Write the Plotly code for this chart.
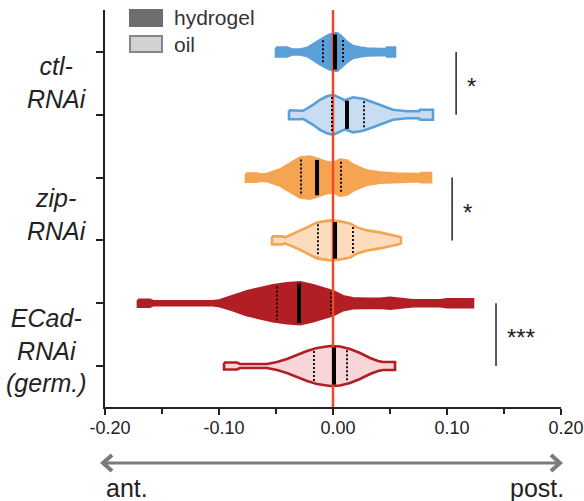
import numpy as np
import plotly.graph_objects as go

# ---------------- data ----------------
group_labels = ["ctl-<br>RNAi", "zip-<br>RNAi", "ECad-<br>RNAi<br>(germ.)"]
conditions = ["hydrogel", "oil"]

# violin outlines: value positions and relative density (half-width)
ctl_hyd_x = [-0.0500, -0.0404, -0.0360, -0.0289, -0.0228, -0.0175, -0.0114, -0.0053, 0.0000,
             0.0035, 0.0070, 0.0123, 0.0175, 0.0237, 0.0298, 0.0412, 0.0465, 0.0474, 0.0544]
ctl_hyd_d = [4.5, 4.5, 2.5, 2.5, 4, 8, 12, 16, 18.5, 19, 16, 10, 6, 4.5, 3.5, 3, 3, 4.5, 4.5]

ctl_oil_x = [-0.0386, -0.0289, -0.0263, -0.0175, -0.0114, -0.0053, 0.0000, 0.0061, 0.0105,
             0.0175, 0.0263, 0.0351, 0.0439, 0.0526, 0.0649, 0.0754, 0.0763, 0.0877]
ctl_oil_d = [4.5, 4.5, 4, 10, 15, 18.5, 20, 17, 14.5, 17.5, 16, 12.5, 9, 5, 3.5, 3.5, 5, 5]

zip_hyd_x = [-0.0763, -0.0667, -0.0640, -0.0579, -0.0465, -0.0377, -0.0289, -0.0202, -0.0114,
             -0.0053, 0.0000, 0.0061, 0.0123, 0.0175, 0.0298, 0.0412, 0.0544, 0.0763, 0.0772, 0.0860]
zip_hyd_d = [4, 4, 3, 3.5, 8, 14, 20, 21, 18, 15.5, 14.5, 18, 17, 13, 7, 5, 4, 3.5, 4.5, 4.5]

zip_oil_x = [-0.0535, -0.0447, -0.0421, -0.0316, -0.0228, -0.0140, -0.0026, 0.0061, 0.0149,
             0.0211, 0.0298, 0.0412, 0.0500, 0.0570, 0.0596]
zip_oil_d = [4, 4, 3, 8, 13, 18, 20, 19, 17, 13, 10, 8, 6, 4, 3]

ecad_hyd_x = [-0.1711, -0.1605, -0.1579, -0.1053, -0.0991, -0.0877, -0.0754, -0.0640, -0.0526,
              -0.0404, -0.0289, -0.0175, -0.0088, 0.0000, 0.0088, 0.0175, 0.0298, 0.0412,
              0.0500, 0.0588, 0.0702, 0.0939, 0.1000, 0.1228]
ecad_hyd_d = [3.5, 3.5, 2, 2, 3, 7, 12, 15, 18, 20, 21, 18, 15, 12, 7, 5, 4.5, 4.5, 5.5, 4.5, 3, 3, 4, 4]

ecad_oil_x = [-0.0956, -0.0842, -0.0816, -0.0579, -0.0491, -0.0404, -0.0316, -0.0228, -0.0140,
              -0.0026, 0.0061, 0.0149, 0.0237, 0.0325, 0.0395, 0.0439, 0.0544]
ecad_oil_d = [3.5, 3.5, 2, 2, 4, 7, 11, 15, 18, 20, 19.5, 17, 13, 8, 5, 4, 4]

medians = [0.0018, 0.0123, -0.0140, 0.0018, -0.0298, 0.0009]
q1s = [-0.0088, -0.0009, -0.0281, -0.0132, -0.0491, -0.0167]
q3s = [0.0088, 0.0272, 0.0070, 0.0175, -0.0018, 0.0123]

sig_labels = ["*", "*", "***"]
sig_x = [0.108, 0.1045, 0.143]

x_tickvals = [-0.2, -0.1, 0.0, 0.1, 0.2]
x_ticktext = ["-0.20", "-0.10", "0.00", "0.10", "0.20"]
x_minorvals = [-0.15, -0.05, 0.05, 0.15]

# ---------------- styling ----------------
FONT = "Liberation Sans, Arial, sans-serif"
W, H = 584, 501
ML, MR, MT, MB = 105, 23, 10, 94
PW, PH = W - ML - MR, H - MT - MB
Y_RANGE = [5.653, -0.669]
PX_PER_CAT = PH / (Y_RANGE[0] - Y_RANGE[1])
D_SCALE = 1.0 / PX_PER_CAT

dark = ["#5a9fd8", "#5a9fd8", "#f5a452", "#f5a452", "#b11f24", "#b11f24"]
fills = ["#5a9fd8", "#c8ddf1", "#f5a452", "#fcdcbd", "#b11f24", "#f8d6d7"]

profiles = [(ctl_hyd_x, ctl_hyd_d), (ctl_oil_x, ctl_oil_d),
            (zip_hyd_x, zip_hyd_d), (zip_oil_x, zip_oil_d),
            (ecad_hyd_x, ecad_hyd_d), (ecad_oil_x, ecad_oil_d)]


def px_x(p):
    return (p - ML) / PW


def px_y(p):
    return (MT + PH - p) / PH


fig = go.Figure()

# violins
for i, (xs, ds) in enumerate(profiles):
    xs = np.array(xs)
    hw = np.array(ds) * D_SCALE
    xx = np.concatenate([xs, xs[::-1], xs[:1]])
    yy = np.concatenate([i - hw, (i + hw)[::-1], [i - hw[0]]])
    fig.add_trace(go.Scatter(x=xx, y=yy, mode="lines", fill="toself",
                             fillcolor=fills[i], line=dict(color=dark[i], width=2.6),
                             hoverinfo="skip", showlegend=False))

# red zero line
fig.add_trace(go.Scatter(x=[0, 0], y=Y_RANGE, mode="lines",
                         line=dict(color="#f2472a", width=2.5),
                         hoverinfo="skip", showlegend=False))

# medians and quartiles
for i, (xs, ds) in enumerate(profiles):
    def half(v, shrink):
        return max(np.interp(v, xs, ds) - shrink, 1) * D_SCALE
    hm = half(medians[i], 1.2)
    fig.add_trace(go.Scatter(x=[medians[i], medians[i]], y=[i - hm, i + hm], mode="lines",
                             line=dict(color="black", width=4), hoverinfo="skip",
                             showlegend=False))
    qx, qy = [], []
    for q in (q1s[i], q3s[i]):
        hq = half(q, 2.0)
        qx += [q, q, None]
        qy += [i - hq, i + hq, None]
    fig.add_trace(go.Scatter(x=qx, y=qy, mode="lines",
                             line=dict(color="black", width=1.8, dash="2px,2px"),
                             hoverinfo="skip", showlegend=False))

shapes = []
annotations = []

# significance bars
for g in range(3):
    shapes.append(dict(type="line", xref="x", yref="y", x0=sig_x[g], x1=sig_x[g],
                       y0=2 * g, y1=2 * g + 1, line=dict(color="#333", width=1.6)))
    annotations.append(dict(x=sig_x[g], y=2 * g + 0.5, xref="x", yref="y",
                            text=sig_labels[g], showarrow=False, xanchor="left",
                            xshift=9, yshift=-3,
                            font=dict(family=FONT, size=24, color="#222")))

# group labels
label_y = [0.49, 2.58, 4.75]
for g in range(3):
    annotations.append(dict(x=px_x(89), y=label_y[g], xref="paper", yref="y",
                            text="<i>" + group_labels[g] + "</i>", showarrow=False,
                            xanchor="right", yanchor="middle", align="center",
                            font=dict(family=FONT, size=25, color="#222")))

# legend
leg_fill = ["#6e6e70", "#d2d2d4"]
leg_line = ["#6e6e70", "#858587"]
leg_top = [9, 35]
for k in range(2):
    shapes.append(dict(type="rect", xref="paper", yref="paper",
                       x0=px_x(130), x1=px_x(162), y0=px_y(leg_top[k] + 17), y1=px_y(leg_top[k] + 1),
                       fillcolor=leg_fill[k], line=dict(color=leg_line[k], width=2)))
    annotations.append(dict(x=px_x(172), y=px_y(leg_top[k] + 9), xref="paper", yref="paper",
                            text=conditions[k], showarrow=False, xanchor="left",
                            yanchor="middle", font=dict(family=FONT, size=21, color="#333")))

# bottom arrow (ant. <-> post.)
ay = 463
arrow_col = "#7b7b7b"
shapes.append(dict(type="line", xref="paper", yref="paper", x0=px_x(104), x1=px_x(558),
                   y0=px_y(ay), y1=px_y(ay), line=dict(color=arrow_col, width=3)))
shapes.append(dict(type="path", xref="paper", yref="paper",
                   path="M %f,%f L %f,%f L %f,%f" % (px_x(112), px_y(ay - 8), px_x(103), px_y(ay),
                                                     px_x(112), px_y(ay + 8)),
                   line=dict(color=arrow_col, width=4)))
shapes.append(dict(type="path", xref="paper", yref="paper",
                   path="M %f,%f L %f,%f L %f,%f" % (px_x(551), px_y(ay - 8), px_x(560), px_y(ay),
                                                     px_x(551), px_y(ay + 8)),
                   line=dict(color=arrow_col, width=4)))
annotations.append(dict(x=px_x(104), y=px_y(488), xref="paper", yref="paper", text="ant.",
                        showarrow=False, xanchor="left", yanchor="middle",
                        font=dict(family=FONT, size=25, color="#222")))
annotations.append(dict(x=px_x(566), y=px_y(488), xref="paper", yref="paper", text="post.",
                        showarrow=False, xanchor="right", yanchor="middle",
                        font=dict(family=FONT, size=25, color="#222")))

fig.update_layout(
    width=W, height=H,
    margin=dict(l=ML, r=MR, t=MT, b=MB),
    paper_bgcolor="white", plot_bgcolor="white",
    showlegend=False,
    shapes=shapes, annotations=annotations,
    xaxis=dict(range=[-0.2, 0.2], tickvals=x_tickvals, ticktext=x_ticktext, automargin=False,
               ticks="outside", ticklen=6, tickwidth=2, tickcolor="#222",
               ticklabelshift=5, ticklabelstandoff=-3, ticklabeloverflow="allow",
               minor=dict(tickvals=x_minorvals, ticks="outside", ticklen=5, tickwidth=2,
                          tickcolor="#222"),
               showline=True, linewidth=2, linecolor="#222", showgrid=False, zeroline=False,
               tickfont=dict(family=FONT, size=18, color="#222")),
    yaxis=dict(range=Y_RANGE, tickvals=[0, 1, 2, 3, 4, 5], ticktext=[""] * 6, automargin=False,
               ticks="outside", ticklen=7, tickwidth=2, tickcolor="#222",
               showline=True, linewidth=2, linecolor="#222", showgrid=False, zeroline=False),
)

fig.write_html("out.html", config={"displayModeBar": False},
               post_script="document.body.style.margin='0';"
                           "document.documentElement.style.overflow='hidden';")
